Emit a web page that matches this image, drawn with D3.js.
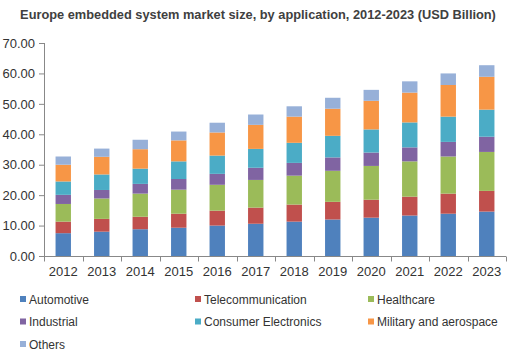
<!DOCTYPE html>
<html>
<head>
<meta charset="utf-8">
<script src="https://cdn.jsdelivr.net/npm/d3@7"></script>
<style>
  body { margin: 0; background: #fff; }
  text { font-family: Arial, "Liberation Sans", sans-serif; }
</style>
</head>
<body>
<svg id="chart" width="510" height="353"></svg>
<script>
// chart data
var years = ["2012", "2013", "2014", "2015", "2016", "2017", "2018", "2019", "2020", "2021", "2022", "2023"];
var seriesNames = ["Automotive", "Telecommunication", "Healthcare", "Industrial", "Consumer Electronics", "Military and aerospace", "Others"];
var automotive  = [7.5, 8.0, 8.8, 9.3, 10.0, 10.6, 11.3, 12.0, 12.6, 13.3, 13.9, 14.6];
var telecom     = [3.8, 4.2, 4.1, 4.6, 4.9, 5.3, 5.6, 5.8, 5.9, 6.2, 6.6, 6.8];
var healthcare  = [5.8, 6.7, 7.6, 7.9, 8.5, 9.1, 9.5, 10.2, 11.1, 11.6, 12.2, 12.8];
var industrial  = [3.0, 2.8, 3.2, 3.5, 3.6, 4.0, 4.2, 4.4, 4.4, 4.6, 4.8, 5.0];
var consumer    = [4.4, 5.1, 5.0, 5.8, 6.0, 6.2, 6.6, 7.1, 7.6, 8.2, 8.3, 8.9];
var military    = [5.5, 5.8, 6.4, 6.9, 7.6, 7.9, 8.6, 8.9, 9.4, 9.8, 10.4, 10.8];
var others      = [2.7, 2.7, 3.1, 2.9, 3.2, 3.4, 3.4, 3.6, 3.6, 3.7, 3.8, 3.8];
var yTicks = [0, 10, 20, 30, 40, 50, 60, 70];

var colors = ["#4F81BD", "#C0504D", "#9BBB59", "#8064A2", "#4BACC6", "#F79646", "#97B0D8"];
var allSeries = [automotive, telecom, healthcare, industrial, consumer, military, others];

// build rows for d3.stack
var table = years.map(function(yr, i) {
  var row = { year: yr };
  seriesNames.forEach(function(name, k) { row[name] = allSeries[k][i]; });
  return row;
});
var stacked = d3.stack().keys(seriesNames)(table);

var svg = d3.select("#chart");
var plotLeft = 44, plotRight = 506, plotTop = 43, plotBottom = 256;

var x = d3.scaleBand().domain(years).range([plotLeft, plotRight]).paddingInner(0.6).paddingOuter(0.3);
var y = d3.scaleLinear().domain([0, 70]).range([plotBottom, plotTop]);

// title
svg.append("text")
  .attr("x", 258).attr("y", 19)
  .attr("text-anchor", "middle")
  .attr("font-size", "12.8px").attr("font-weight", "bold")
  .attr("fill", "#404040")
  .text("Europe embedded system market size, by application, 2012-2023 (USD Billion)");

// bars
svg.append("g").selectAll("g")
  .data(stacked)
  .enter().append("g")
  .attr("fill", function(d, i) { return colors[i]; })
  .selectAll("rect")
  .data(function(d) { return d; })
  .enter().append("rect")
  .attr("x", function(d) { return x(d.data.year); })
  .attr("y", function(d) { return y(d[1]); })
  .attr("height", function(d) { return y(d[0]) - y(d[1]); })
  .attr("width", x.bandwidth());

// y axis
var yAxis = svg.append("g")
  .attr("transform", "translate(" + plotLeft + ",0)")
  .call(d3.axisLeft(y).tickValues(yTicks).tickSize(5).tickPadding(4)
    .tickFormat(function(d) { return d3.format(".2f")(d); }));
yAxis.selectAll("text").attr("font-size", "13px").attr("fill", "#333");
yAxis.select(".domain").attr("stroke", "#888").attr("d", "M0.5," + plotBottom + "V" + plotTop);
yAxis.selectAll(".tick line").attr("stroke", "#888");

// x axis, ticks sit between the categories like in Excel
var xAxis = svg.append("g")
  .attr("transform", "translate(0," + (plotBottom + 0.5) + ")");
xAxis.append("line")
  .attr("x1", plotLeft).attr("x2", plotRight)
  .attr("stroke", "#888");
var step = (plotRight - plotLeft) / years.length;
xAxis.selectAll(".sep")
  .data(d3.range(years.length + 1))
  .enter().append("line")
  .attr("x1", function(d) { return Math.round(plotLeft + d * step) + 0.5; })
  .attr("x2", function(d) { return Math.round(plotLeft + d * step) + 0.5; })
  .attr("y1", 0).attr("y2", 5)
  .attr("stroke", "#888");
xAxis.selectAll(".lab")
  .data(years)
  .enter().append("text")
  .attr("x", function(d) { return x(d) + x.bandwidth() / 2; })
  .attr("y", 19)
  .attr("text-anchor", "middle")
  .attr("font-size", "13px").attr("fill", "#333")
  .text(function(d) { return d; });

// legend, three columns
var colX = [20, 195, 368];
var legend = svg.append("g").selectAll("g")
  .data(seriesNames)
  .enter().append("g")
  .attr("transform", function(d, i) {
    return "translate(" + colX[i % 3] + "," + (299 + Math.floor(i / 3) * 22.5) + ")";
  });
legend.append("rect")
  .attr("x", 0).attr("y", -3).attr("width", 6).attr("height", 6)
  .attr("fill", function(d, i) { return colors[i]; });
legend.append("text")
  .attr("x", 9).attr("y", 4.5)
  .attr("font-size", "12px").attr("fill", "#333")
  .text(function(d) { return d; });
</script>
</body>
</html>
